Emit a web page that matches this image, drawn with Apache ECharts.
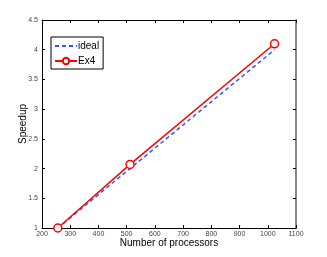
<!DOCTYPE html>
<html><head><meta charset="utf-8">
<script src="https://cdn.jsdelivr.net/npm/echarts@6/dist/echarts.min.js"></script>
<style>html,body{margin:0;padding:0;background:#fff}#c{width:327px;height:257px}</style>
</head><body><div id="c"></div>
<script>
const processors = [256, 512, 1024];
const ideal = [1, 2, 4];
const ex4 = [1, 2.07, 4.1];
const xTicks = [200,300,400,500,600,700,800,900,1000,1100];
const yTicks = [1,1.5,2,2.5,3,3.5,4,4.5];

const chart = echarts.init(document.getElementById('c'));
const font = 'Liberation Sans';
const tickLbl = {fontSize: 7, color: '#444', fontFamily: font, formatter: v => String(v)};
chart.setOption({
  animation: false,
  grid: {left: 42, right: 31, top: 20, bottom: 29},
  legend: {
    left: 51, top: 37, orient: 'vertical', itemWidth: 22, itemHeight: 8, itemGap: 5,
    padding: [4, 4, 3, 3], borderColor: '#000', borderWidth: 1, backgroundColor: '#fff',
    textStyle: {fontSize: 10, fontFamily: font, color: '#000', padding: [0,0,0,-4]},
    data: [{name: 'ideal', itemStyle: {opacity: 0}}, {name: 'Ex4'}]
  },
  xAxis: [{
    type: 'value', min: 200, max: 1100, interval: 100, position: 'bottom',
    name: 'Number of processors', nameLocation: 'middle', nameGap: 10, nameMoveOverlap: false,
    nameTextStyle: {fontSize: 10, fontFamily: font, color: '#000', verticalAlign: 'top'},
    axisLine: {lineStyle: {color: '#000', width: 1}},
    axisTick: {inside: true, length: 3, lineStyle: {color: '#000'}},
    axisLabel: Object.assign({margin: 3}, tickLbl),
    splitLine: {show: false}
  }, {
    type: 'value', min: 200, max: 1100, interval: 100, position: 'top',
    axisLine: {lineStyle: {color: '#000', width: 1}},
    axisTick: {inside: true, length: 3, lineStyle: {color: '#000'}},
    axisLabel: {show: false}, splitLine: {show: false}
  }],
  yAxis: [{
    type: 'value', min: 1, max: 4.5, interval: 0.5, position: 'left',
    name: 'Speedup', nameLocation: 'middle', nameGap: 14, nameMoveOverlap: false,
    nameTextStyle: {fontSize: 10, fontFamily: font, color: '#000'},
    axisLine: {show: true, lineStyle: {color: '#000', width: 1}},
    axisTick: {show: true, inside: true, length: 3, lineStyle: {color: '#000'}},
    axisLabel: Object.assign({margin: 4}, tickLbl),
    splitLine: {show: false}
  }, {
    type: 'value', min: 1, max: 4.5, interval: 0.5, position: 'right',
    axisLine: {show: true, lineStyle: {color: '#888', width: 2}},
    axisTick: {show: true, inside: true, length: 3, lineStyle: {color: '#000'}},
    axisLabel: {show: false}, splitLine: {show: false}
  }],
  series: [{
    name: 'ideal', type: 'line', xAxisIndex: 0, yAxisIndex: 0,
    data: processors.map((p, i) => [p, ideal[i]]),
    symbol: 'none', lineStyle: {color: '#3355ff', width: 1.5, type: [4, 3]},
    itemStyle: {color: '#3355ff'}, z: 2
  }, {
    name: 'Ex4', type: 'line', xAxisIndex: 0, yAxisIndex: 0,
    data: processors.map((p, i) => [p, ex4[i]]),
    symbol: 'circle', symbolSize: 8, showAllSymbol: true,
    lineStyle: {color: '#ff0000', width: 1.5},
    itemStyle: {color: '#fff', borderColor: '#ff0000', borderWidth: 1.5}, z: 3
  }]
});
</script></body></html>
